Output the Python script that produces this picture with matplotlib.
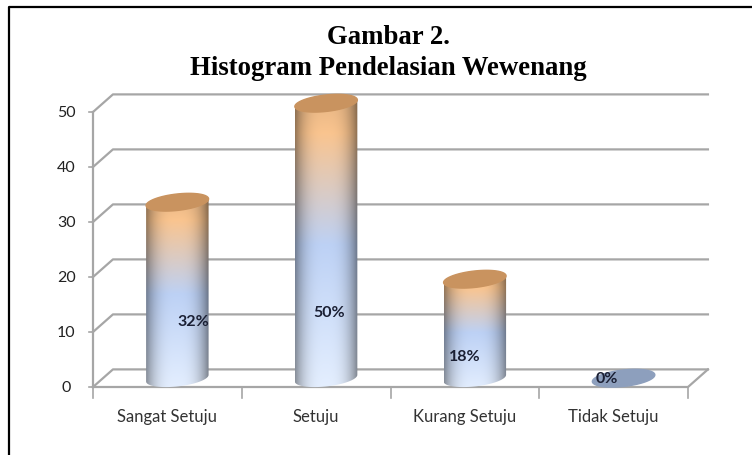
import matplotlib
matplotlib.use('Agg')
import matplotlib.pyplot as plt
import numpy as np
from matplotlib.lines import Line2D
from matplotlib.patches import PathPatch
from matplotlib.path import Path

categories = ['Sangat Setuju', 'Setuju', 'Kurang Setuju', 'Tidak Setuju']
values = [32, 50, 18, 0]
labels = ['32%', '50%', '18%', '0%']
yticks = [0, 10, 20, 30, 40, 50]

W, H = 752, 456
# depth of the fake 3d floor, in data units
DX = 0.134
DY = 3.2
BAR_W = 0.42
ELL_H = 3.0
TILT = 0.6
GRID = '#a6a6a6'


def cyl_image():
    ys = np.linspace(0, 1, 200)
    xs = np.linspace(-1, 1, 80)[None, :]
    top = np.array([0.98, 0.77, 0.56])
    mid = np.array([0.74, 0.82, 0.96])
    bot = np.array([0.90, 0.94, 1.0])
    col = np.zeros((200, 80, 3))
    for i in range(3):
        col[:, :, i] = np.interp(ys, [0, 0.12, 0.5, 1.0], [top[i]*0.92, top[i], mid[i], bot[i]])[:, None]
    shade = 1 - 0.42*np.abs(xs + 0.02)**3
    return col*shade[:, :, None]


fig = plt.figure(figsize=(W/100, H/100), dpi=100)
ax = fig.add_axes([93/W, 1 - 388/H, (688 - 93)/W, (388 - 113)/H])
ax.patch.set_visible(False)
for s in ax.spines.values():
    s.set_visible(False)
ax.set_xticks([])
ax.set_yticks([])

# grid lines on back wall + side wall
for t in yticks:
    ax.plot([0, DX, 4 + DX], [t, t + DY, t + DY], color=GRID, lw=1.6, clip_on=False, zorder=1)
    ax.plot([-0.03, 0], [t, t], color=GRID, lw=1.2, clip_on=False, zorder=1)
    ax.text(-0.18, t, str(t), ha='center', va='center', fontsize=11.5, family='Lato', color='#222222')
# front edge of floor, left axis and ticks
ax.plot([0, 4, 4 + DX], [0, 0, DY], color=GRID, lw=1.6, clip_on=False, zorder=1)
ax.plot([0, 0], [0, 50], color=GRID, lw=1.6, clip_on=False, zorder=1)
for i in range(5):
    ax.plot([i, i], [0, -2], color=GRID, lw=1.2, clip_on=False, zorder=1)

img = cyl_image()
t_low = np.linspace(np.pi, 2*np.pi, 40)
t_all = np.linspace(0, 2*np.pi, 80)
for i, v in enumerate(values):
    xc = i + 0.5 + DX/2
    base = DY/2
    x0, x1 = xc - BAR_W/2, xc + BAR_W/2
    top = v + base
    if v > 0:
        # body outline, clip the gradient to it
        bx = xc + BAR_W/2*np.cos(t_low)
        by = base + ELL_H/2*np.sin(t_low) + TILT*np.cos(t_low)
        verts = list(zip(bx, by)) + [(x1, top + TILT), (xc, top), (x0, top - TILT), (bx[0], by[0])]
        clip = PathPatch(Path(verts), transform=ax.transData, fc='none', ec='none')
        ax.add_patch(clip)
        im = ax.imshow(img, extent=[x0, x1, base - ELL_H/2 - 1, top + 1], aspect='auto', zorder=3, interpolation='bilinear')
        im.set_clip_path(clip)
        im.set_clip_box(fig.bbox)
        ax.fill(xc + BAR_W/2*np.cos(t_all), top + ELL_H/2*np.sin(t_all) + TILT*np.cos(t_all),
                color='#c9935f', zorder=4, clip_on=False)
    else:
        ax.fill(xc + BAR_W/2*np.cos(t_all), base + ELL_H/2*np.sin(t_all) + TILT*np.cos(t_all),
                color='#8d9fbd', zorder=4, clip_on=False)
    ax.text(i + 0.5, -5.3, categories[i], ha='center', va='center', fontsize=12, family='Lato', color='#333333')

# value labels sit loosely on the bars
label_y = [12, 13.6, 5.6, 1.6]
label_dx = [16, 3, -10, -17]
for i, txt in enumerate(labels):
    ax.annotate(txt, (i + 0.5 + DX/2, label_y[i]), xytext=(label_dx[i], 0), textcoords='offset pixels',
                ha='center', va='center', fontsize=11.5, fontweight='bold', family='Lato', color='#1a1f33', zorder=5)

ax.set_xlim(0, 4)
ax.set_ylim(0, 50)

fig.text(388/W, 1 - 44/H, 'Gambar 2.', ha='center', va='baseline',
         fontsize=19.3, fontweight='bold', family='Liberation Serif', color='black')
fig.text(388/W, 1 - 75/H, 'Histogram Pendelasian Wewenang', ha='center', va='baseline',
         fontsize=19.3, fontweight='bold', family='Liberation Serif', color='black')
fig.add_artist(Line2D([9/W, 9/W, 1], [0, 1 - 8/H, 1 - 8/H], transform=fig.transFigure, color='black', lw=1.6))

fig.savefig('out.png', dpi=100)
